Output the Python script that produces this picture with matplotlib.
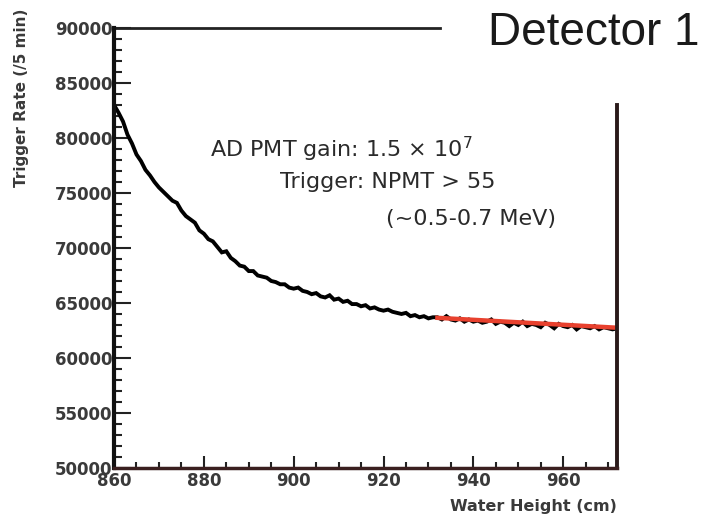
import numpy as np
import matplotlib
matplotlib.use('Agg')
import matplotlib.pyplot as plt
from matplotlib.ticker import MultipleLocator

# water height (cm) and trigger rate per 5 min
height = np.arange(860, 973)
rate = [83000, 82300, 81500, 80300, 79500, 78500, 77900, 77100, 76600, 76000,
        75500, 75100, 74700, 74300, 74100, 73400, 72900, 72600, 72300, 71600,
        71300, 70800, 70600, 70100, 69600, 69700, 69100, 68800, 68400, 68300,
        67900, 67900, 67500, 67400, 67300, 67000, 66900, 66700, 66700, 66400,
        66300, 66400, 66100, 66000, 65800, 65900, 65600, 65500, 65700, 65300,
        65400, 65100, 65200, 64900, 64900, 64700, 64800, 64500, 64600, 64400,
        64300, 64400, 64200, 64100, 64000, 64100, 63800, 63900, 63700, 63800,
        63600, 63700, 63700, 63500, 63800, 63500, 63400, 63600, 63300, 63500,
        63300, 63400, 63200, 63300, 63500, 63100, 63300, 63200, 62900, 63200,
        63000, 63300, 62900, 63100, 63000, 62800, 63200, 63000, 62700, 63100,
        62900, 62800, 63000, 62600, 62900, 62800, 62700, 62900, 62600, 62800,
        62700, 62600, 62700]

# linear fit over the flat part
fit_x = [932, 972]
fit_y = [63650, 62750]

fig = plt.figure(figsize=(7.1, 5.15), dpi=100)
ax = fig.add_axes([0.1606, 0.0913, 0.7085, 0.8544])

ax.plot(height, rate, color='black', lw=2.8, solid_joinstyle='miter')
ax.plot(fit_x, fit_y, color='#e8412e', lw=3.2)

ax.set_xlim(860, 972)
ax.set_ylim(50000, 90000)
ax.xaxis.set_major_locator(MultipleLocator(20))
ax.xaxis.set_minor_locator(MultipleLocator(5))
ax.yaxis.set_major_locator(MultipleLocator(5000))
ax.yaxis.set_minor_locator(MultipleLocator(1000))

ax.tick_params(which='both', direction='in', top=False, right=False,
               colors='#222222', width=1.5)
ax.tick_params(axis='y', which='major', length=12, pad=1)
ax.tick_params(axis='y', which='minor', length=6)
ax.tick_params(axis='x', which='major', length=9, pad=3)
ax.tick_params(axis='x', which='minor', length=4)
for lab in ax.get_xticklabels() + ax.get_yticklabels():
    lab.set_fontsize(12)
    lab.set_fontweight('bold')
    lab.set_color('#3a3a3a')

ax.spines['left'].set_linewidth(3)
ax.spines['left'].set_color('#111111')
ax.spines['bottom'].set_linewidth(2.5)
ax.spines['bottom'].set_color('#3a1f1f')
ax.spines['top'].set_visible(False)
ax.spines['right'].set_visible(False)
# partial top and right frame (upper right corner is covered by the title)
ax.plot([0, 0.648], [1, 1], transform=ax.transAxes, color='#222222',
        lw=2, clip_on=False)
ax.plot([1, 1], [0, 0.825], transform=ax.transAxes, color='#2a1a1a',
        lw=2.8, clip_on=False)

ax.set_xlabel('Water Height (cm)', fontsize=11.5, fontweight='bold',
              color='#3a3a3a')
ax.xaxis.set_label_coords(1.0, -0.07)
ax.xaxis.label.set_horizontalalignment('right')
ax.set_ylabel('Trigger Rate (/5 min)', fontsize=11, fontweight='bold',
              color='#3a3a3a')
ax.yaxis.set_label_coords(-0.17, 1.045)
ax.yaxis.label.set_horizontalalignment('right')

fig.text(0.985, 0.935, 'Detector 1', fontsize=33, family='Liberation Sans',
         ha='right', va='center', color='#1a1a1a')

ax.text(0.19, 0.725, 'AD PMT gain: 1.5 × 10$^7$', transform=ax.transAxes,
        fontsize=16, color='#2a2a2a', va='center')
ax.text(0.33, 0.65, 'Trigger: NPMT > 55', transform=ax.transAxes,
        fontsize=16, color='#2a2a2a', va='center')
ax.text(0.54, 0.565, '(~0.5-0.7 MeV)', transform=ax.transAxes,
        fontsize=16, color='#2a2a2a', va='center')

fig.savefig('out.png', dpi=100)
